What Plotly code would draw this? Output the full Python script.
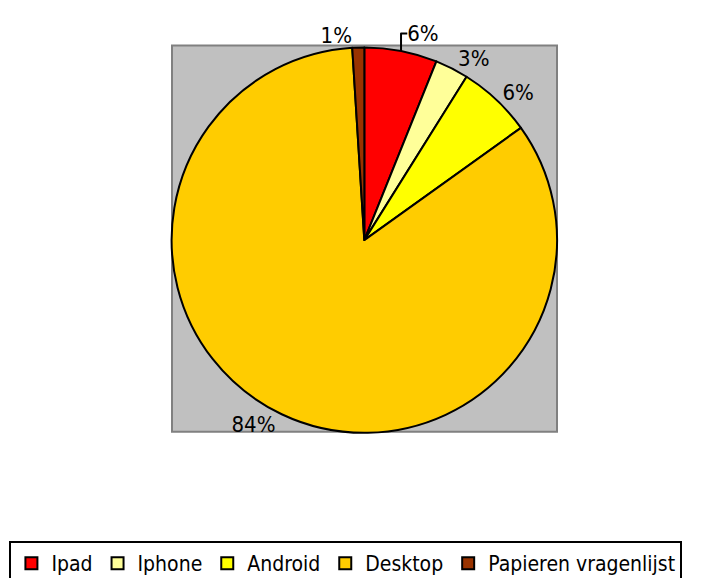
import plotly.graph_objects as go

labels = ['Ipad', 'Iphone', 'Android', 'Desktop', 'Papieren vragenlijst']
values = [6.1, 2.8, 6.2, 83.9, 1.0]
colors = ['#FF0000', '#FFFF99', '#FFFF00', '#FFCC00', '#993300']

font = 'Tahoma, "DejaVu Sans Condensed", "DejaVu Sans", sans-serif'

fig = go.Figure()
fig.add_trace(go.Pie(
    labels=labels, values=values, sort=False, direction='clockwise', rotation=0,
    marker=dict(colors=colors, line=dict(color='black', width=2)),
    textinfo='percent', texttemplate='%{percent:.0%}', textposition='outside',
    textfont=dict(size=22, color='black', family=font),
    domain=dict(x=[0.204, 0.804], y=[0.256, 0.931]),
    showlegend=True,
))

# grey plot area behind the pie (page has an 8px body margin)
fig.add_shape(type='rect', xref='paper', yref='paper', layer='below',
              x0=164/707, x1=549/707, y0=1-429/578, y1=1-38/578,
              fillcolor='#C0C0C0', line=dict(color='#808080', width=2))

fig.update_layout(
    width=707, height=578,
    margin=dict(l=0, r=0, t=0, b=0),
    paper_bgcolor='white', plot_bgcolor='white',
    font=dict(family=font, size=18, color='black'),
    legend=dict(orientation='h', x=0.002, xanchor='left', y=0.066, yanchor='top',
                bordercolor='black', borderwidth=2, font=dict(size=21),
                itemwidth=30, tracegroupgap=0),
)

fig.write_html('out.html')
